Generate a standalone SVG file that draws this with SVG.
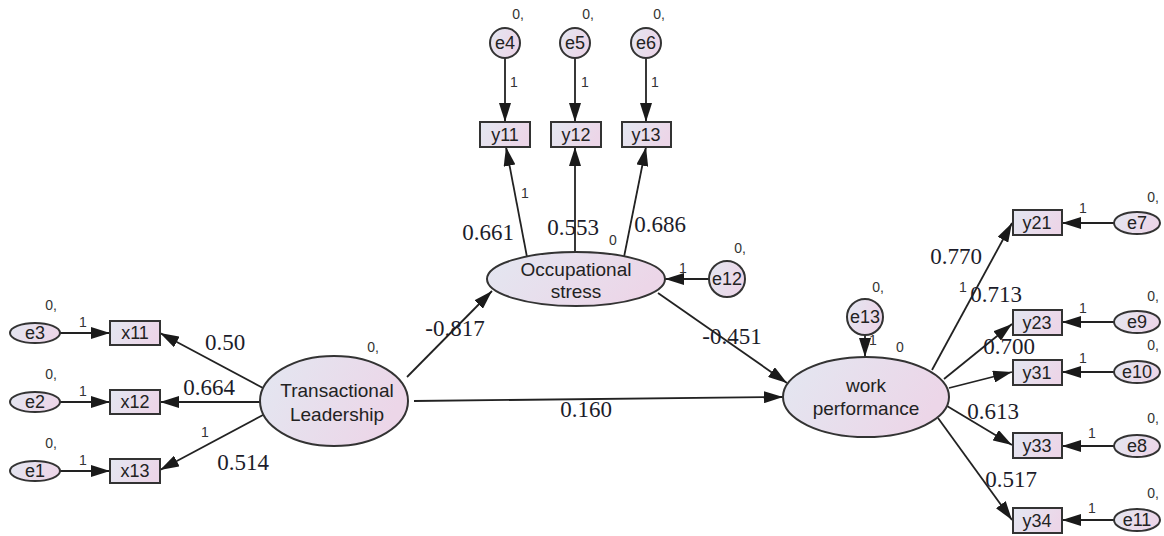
<svg xmlns="http://www.w3.org/2000/svg" width="1164" height="536" viewBox="0 0 1164 536">
<defs>
<linearGradient id="g" x1="0" y1="0" x2="1" y2="0.3">
<stop offset="0" stop-color="#e3e7f1"/>
<stop offset="1" stop-color="#ecd6e8"/>
</linearGradient>
<marker id="ah" markerUnits="userSpaceOnUse" markerWidth="19" markerHeight="12" refX="19" refY="6" orient="auto">
<path d="M0,0 L19,6 L0,12 z" fill="#1a1a1a"/>
</marker>
<style>
.n{fill:url(#g);stroke:#333;stroke-width:2}
.t{font-family:"Liberation Sans",Arial,sans-serif;font-size:18px;fill:#222;text-anchor:middle}
.big{font-family:"Liberation Sans",Arial,sans-serif;font-size:19px;fill:#222;text-anchor:middle}
.s{font-family:"Liberation Sans",Arial,sans-serif;font-size:14px;fill:#333;text-anchor:middle}
.v{font-family:"Liberation Serif","Times New Roman",serif;font-size:23px;fill:#1c1c2a;text-anchor:middle}
.c{stroke:#222;stroke-width:1.8;fill:none;marker-end:url(#ah)}
</style>
</defs>
<rect width="1164" height="536" fill="#fff"/>

<g id="connectors">
<line class="c" x1="60" y1="333" x2="110" y2="333"/>
<line class="c" x1="60" y1="402" x2="110" y2="402"/>
<line class="c" x1="60" y1="471" x2="110" y2="471"/>
<line class="c" x1="263" y1="388" x2="160" y2="333"/>
<line class="c" x1="260" y1="402" x2="160" y2="402"/>
<line class="c" x1="263" y1="415" x2="160" y2="470"/>
<line class="c" x1="505" y1="58" x2="505" y2="122"/>
<line class="c" x1="575" y1="58" x2="575" y2="122"/>
<line class="c" x1="646" y1="58" x2="646" y2="122"/>
<line class="c" x1="527" y1="257" x2="506" y2="147"/>
<line class="c" x1="575" y1="252" x2="575" y2="147"/>
<line class="c" x1="624" y1="257" x2="646" y2="147"/>
<line class="c" x1="709" y1="279" x2="665" y2="279"/>
<line class="c" x1="407" y1="377" x2="492" y2="291"/>
<line class="c" x1="658" y1="293" x2="787" y2="383"/>
<line class="c" x1="414" y1="401" x2="783" y2="397"/>
<line class="c" x1="865" y1="335" x2="865" y2="357"/>
<line class="c" x1="932" y1="370" x2="1012" y2="223"/>
<line class="c" x1="944" y1="379" x2="1012" y2="324"/>
<line class="c" x1="949" y1="388" x2="1012" y2="372"/>
<line class="c" x1="947" y1="406" x2="1012" y2="445"/>
<line class="c" x1="938" y1="418" x2="1012" y2="520"/>
<line class="c" x1="1114" y1="223" x2="1062" y2="223"/>
<line class="c" x1="1114" y1="322" x2="1062" y2="322"/>
<line class="c" x1="1114" y1="372" x2="1062" y2="372"/>
<line class="c" x1="1114" y1="446" x2="1062" y2="446"/>
<line class="c" x1="1114" y1="520" x2="1062" y2="520"/>
</g>

<g id="labels">
<text class="s" x="83" y="327">1</text>
<text class="s" x="83" y="396">1</text>
<text class="s" x="83" y="465">1</text>
<text class="s" x="205" y="437">1</text>
<text class="v" x="225" y="350">0.50</text>
<text class="v" x="209" y="395">0.664</text>
<text class="v" x="243" y="470">0.514</text>
<text class="s" x="514" y="87">1</text>
<text class="s" x="585" y="87">1</text>
<text class="s" x="655" y="87">1</text>
<text class="s" x="525" y="198">1</text>
<text class="v" x="488" y="240">0.661</text>
<text class="v" x="573" y="235">0.553</text>
<text class="v" x="660" y="232">0.686</text>
<text class="s" x="613" y="245">0</text>
<text class="s" x="683" y="273">1</text>
<text class="v" x="455" y="336">-0.817</text>
<text class="v" x="732" y="344">-0.451</text>
<text class="v" x="586" y="417">0.160</text>
<text class="s" x="373" y="352">0,</text>
<text class="s" x="873" y="345">1</text>
<text class="s" x="900" y="352">0</text>
<text class="v" x="956" y="264">0.770</text>
<text class="s" x="963" y="292">1</text>
<text class="v" x="996" y="302">0.713</text>
<text class="v" x="1009" y="354">0.700</text>
<text class="v" x="993" y="419">0.613</text>
<text class="v" x="1011" y="487">0.517</text>
<text class="s" x="1083" y="213">1</text>
<text class="s" x="1083" y="313">1</text>
<text class="s" x="1083" y="363">1</text>
<text class="s" x="1092" y="438">1</text>
<text class="s" x="1092" y="513">1</text>
</g>

<g id="e3"><ellipse class="n" cx="35" cy="333" rx="25" ry="10"/><text class="t" x="35" y="339">e3</text><text class="s" x="51" y="310">0,</text></g>
<g id="e2"><ellipse class="n" cx="35" cy="402" rx="25" ry="10"/><text class="t" x="35" y="408">e2</text><text class="s" x="51" y="379">0,</text></g>
<g id="e1"><ellipse class="n" cx="35" cy="471" rx="25" ry="10"/><text class="t" x="35" y="477">e1</text><text class="s" x="51" y="448">0,</text></g>
<g id="x11"><rect class="n" x="110" y="321" width="50" height="24"/><text class="t" x="135" y="339">x11</text></g>
<g id="x12"><rect class="n" x="110" y="390" width="50" height="24"/><text class="t" x="135" y="408">x12</text></g>
<g id="x13"><rect class="n" x="110" y="459" width="50" height="24"/><text class="t" x="135" y="477">x13</text></g>

<g id="TL"><ellipse class="n" cx="334" cy="401" rx="74" ry="45"/><text class="big" x="337" y="397">Transactional</text><text class="big" x="337" y="421">Leadership</text></g>

<g id="e4"><circle class="n" cx="505" cy="43" r="15"/><text class="t" x="505" y="49">e4</text><text class="s" x="518" y="19">0,</text></g>
<g id="e5"><circle class="n" cx="575" cy="43" r="15"/><text class="t" x="575" y="49">e5</text><text class="s" x="588" y="19">0,</text></g>
<g id="e6"><circle class="n" cx="646" cy="43" r="15"/><text class="t" x="646" y="49">e6</text><text class="s" x="659" y="19">0,</text></g>
<g id="y11"><rect class="n" x="480" y="122" width="50" height="25"/><text class="t" x="505" y="141">y11</text></g>
<g id="y12"><rect class="n" x="551" y="122" width="50" height="25"/><text class="t" x="576" y="141">y12</text></g>
<g id="y13"><rect class="n" x="622" y="122" width="49" height="25"/><text class="t" x="646" y="141">y13</text></g>

<g id="OS"><ellipse class="n" cx="576" cy="279" rx="89" ry="27"/><text class="big" x="576" y="276">Occupational</text><text class="big" x="576" y="298">stress</text></g>
<g id="e12"><circle class="n" cx="727" cy="279" r="18"/><text class="t" x="727" y="285">e12</text><text class="s" x="740" y="253">0,</text></g>

<g id="e13"><circle class="n" cx="865" cy="317" r="18"/><text class="t" x="865" y="323">e13</text><text class="s" x="878" y="292">0,</text></g>
<g id="WP"><ellipse class="n" cx="866" cy="397" rx="83" ry="40"/><text class="big" x="866" y="392">work</text><text class="big" x="866" y="415">performance</text></g>

<g id="y21"><rect class="n" x="1013" y="210" width="49" height="25"/><text class="t" x="1037" y="229">y21</text></g>
<g id="y23"><rect class="n" x="1013" y="310" width="49" height="25"/><text class="t" x="1037" y="329">y23</text></g>
<g id="y31"><rect class="n" x="1013" y="360" width="49" height="25"/><text class="t" x="1037" y="379">y31</text></g>
<g id="y33"><rect class="n" x="1013" y="433" width="49" height="25"/><text class="t" x="1037" y="452">y33</text></g>
<g id="y34"><rect class="n" x="1013" y="508" width="49" height="25"/><text class="t" x="1037" y="527">y34</text></g>

<g id="e7"><ellipse class="n" cx="1137" cy="223" rx="23" ry="11"/><text class="t" x="1137" y="229">e7</text><text class="s" x="1153" y="202">0,</text></g>
<g id="e9"><ellipse class="n" cx="1137" cy="322" rx="23" ry="11"/><text class="t" x="1137" y="328">e9</text><text class="s" x="1153" y="301">0,</text></g>
<g id="e10"><ellipse class="n" cx="1137" cy="372" rx="23" ry="11"/><text class="t" x="1137" y="378">e10</text><text class="s" x="1153" y="350">0,</text></g>
<g id="e8"><ellipse class="n" cx="1137" cy="446" rx="23" ry="11"/><text class="t" x="1137" y="452">e8</text><text class="s" x="1153" y="423">0,</text></g>
<g id="e11"><ellipse class="n" cx="1137" cy="520" rx="23" ry="11"/><text class="t" x="1137" y="526">e11</text><text class="s" x="1153" y="498">0,</text></g>
</svg>
